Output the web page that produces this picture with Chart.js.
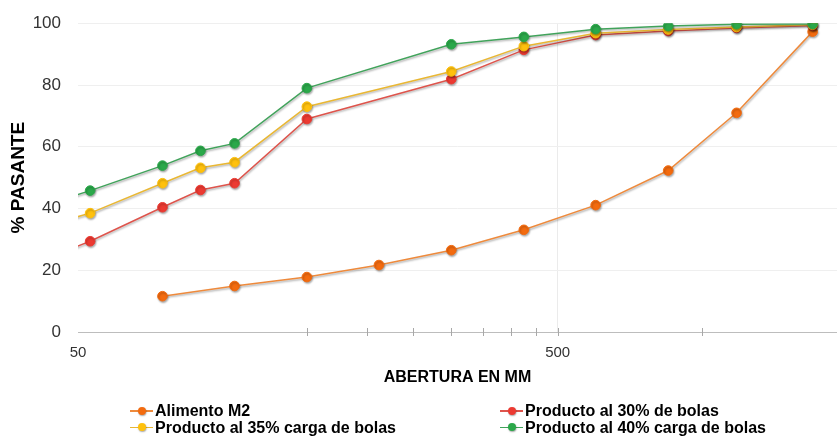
<!DOCTYPE html>
<html lang="es">
<head>
<meta charset="utf-8">
<script src="https://cdn.jsdelivr.net/npm/chart.js@4.4.1/dist/chart.umd.min.js"></script>
<style>
  html, body { margin: 0; padding: 0; background: #ffffff; }
  #wrap { position: relative; width: 837px; height: 436px; overflow: hidden; }
  #grafico { position: absolute; left: 0; top: 0; }
  #leyenda {
    position: absolute; left: 0; top: 402px; width: 837px; height: 34px;
    font-family: "Liberation Sans", Arial, sans-serif; font-weight: bold; font-size: 16px; color: #000;
  }
  .item { position: absolute; height: 17px; line-height: 17px; white-space: nowrap; }
  .marca { position: absolute; left: 0; top: 0; width: 23px; height: 17px; }
  .marca .linea { position: absolute; left: 0; top: 8px; width: 23px; height: 1.5px; }
  .marca .punto { position: absolute; left: 7.5px; top: 4.5px; width: 8px; height: 8px; border-radius: 50%;
                  box-shadow: 0.5px 1px 1.5px rgba(0,0,0,0.35); }
  .texto { position: absolute; left: 25px; top: 0; }
</style>
</head>
<body>
<div id="wrap">
  <canvas id="grafico" width="837" height="436"></canvas>
  <div id="leyenda"></div>
</div>
<script>
// Series names and colours
const series = ["Alimento M2", "Producto al 30% de bolas", "Producto al 35% carga de bolas", "Producto al 40% carga de bolas"];
const coloresPunto = ["#F36B0F", "#EC3A32", "#FFC10E", "#2BA84A"];
const coloresLinea = ["#EE8A3C", "#DE544C", "#E9B733", "#41A35B"];

// Sieve openings (x values)
const aberturasAlimento = [75, 106, 150, 212, 300, 425, 600, 850, 1180, 1700];
const aberturasProducto = [38, 53, 75, 90, 106, 150, 300, 425, 600, 850, 1180, 1700];

// Cumulative % passing for each series
const alimentoM2 = [11.6, 14.9, 17.8, 21.7, 26.5, 33.1, 41.1, 52.3, 71.0, 97.3];
const producto30 = [20.7, 29.4, 40.4, 46.0, 48.2, 69.0, 81.9, 91.4, 96.2, 97.5, 98.5, 99.3];
const producto35 = [32.1, 38.5, 48.2, 53.2, 55.0, 73.0, 84.4, 92.6, 96.8, 98.0, 98.8, 99.5];
const producto40 = [38.6, 45.8, 53.9, 58.7, 61.1, 79.0, 93.2, 95.6, 98.1, 99.1, 99.7, 99.8];

// Axis ticks
const ticksX = [50, 150, 200, 250, 300, 350, 400, 450, 500, 1000];
const etiquetasX = [50, 500];
const ejeX = { min: 50, max: 1911 };
const ejeY = { min: 0, max: 100, paso: 20 };

const FUENTE = '"Liberation Sans", Arial, sans-serif';

function puntos(xs, ys) {
  return ys.map((v, i) => ({ x: xs[i], y: v }));
}

const valores = [
  puntos(aberturasAlimento, alimentoM2),
  puntos(aberturasProducto, producto30),
  puntos(aberturasProducto, producto35),
  puntos(aberturasProducto, producto40)
];

// later series are drawn above earlier ones
const datasets = series.map((nombre, i) => ({
  label: nombre,
  data: valores[i],
  borderColor: coloresLinea[i],
  backgroundColor: coloresPunto[i],
  pointBackgroundColor: coloresPunto[i],
  pointBorderColor: coloresPunto[i],
  pointBorderWidth: 1,
  pointRadius: 4.8,
  borderWidth: 1.5,
  tension: 0,
  order: series.length - 1 - i
}));

// soft drop shadow under lines and markers
const sombra = {
  id: 'sombra',
  beforeDatasetDraw(chart) {
    const ctx = chart.ctx;
    ctx.save();
    ctx.shadowColor = 'rgba(0,0,0,0.33)';
    ctx.shadowBlur = 2;
    ctx.shadowOffsetX = 0.8;
    ctx.shadowOffsetY = 1.4;
  },
  afterDatasetDraw(chart) {
    chart.ctx.restore();
  }
};

// small tick marks crossing the category axis line
const marcasX = {
  id: 'marcasX',
  afterDraw(chart) {
    const esc = chart.scales.x;
    const ctx = chart.ctx;
    const y = chart.chartArea.bottom;
    ctx.save();
    ctx.strokeStyle = '#a8a8a8';
    ctx.lineWidth = 1;
    esc.ticks.forEach(t => {
      if (t.value <= ejeX.min) return;
      const x = Math.round(esc.getPixelForValue(t.value)) + 0.5;
      ctx.beginPath();
      ctx.moveTo(x, y - 4);
      ctx.lineTo(x, y + 4);
      ctx.stroke();
    });
    ctx.restore();
  }
};

const chart = new Chart(document.getElementById('grafico'), {
  type: 'line',
  data: { datasets },
  plugins: [sombra, marcasX],
  options: {
    responsive: false,
    animation: false,
    devicePixelRatio: 1,
    layout: { autoPadding: false, padding: { top: 23.3, right: 0, bottom: 0, left: 0 } },
    plugins: {
      legend: { display: false },
      tooltip: { enabled: false },
      title: { display: false }
    },
    scales: {
      x: {
        type: 'logarithmic',
        min: ejeX.min,
        max: ejeX.max,
        afterBuildTicks(scale) {
          scale.ticks = ticksX.map(v => ({ value: v }));
        },
        afterFit(scale) {
          scale.height = 104;
          scale.paddingLeft = 0;
          scale.paddingRight = 0;
        },
        ticks: {
          autoSkip: false,
          maxRotation: 0,
          padding: 12,
          color: '#333333',
          font: { family: FUENTE, size: 15 },
          callback: (v) => etiquetasX.includes(v) ? String(v) : ''
        },
        grid: {
          drawTicks: false,
          color: (c) => (c.tick && c.tick.value === 500) ? '#ebebeb' : 'rgba(0,0,0,0)'
        },
        border: { display: true, color: '#bdbdbd', width: 1 },
        title: {
          display: true,
          text: 'ABERTURA EN MM',
          color: '#000000',
          font: { family: FUENTE, size: 16, weight: 'bold' },
          padding: { top: 0, bottom: 48.7 }
        }
      },
      y: {
        min: ejeY.min,
        max: ejeY.max,
        afterFit(scale) {
          scale.width = 78;
          scale.paddingTop = 0;
          scale.paddingBottom = 0;
        },
        ticks: {
          stepSize: ejeY.paso,
          padding: 17,
          color: '#333333',
          font: { family: FUENTE, size: 17 }
        },
        grid: {
          drawTicks: false,
          color: '#efefef'
        },
        border: { display: false },
        title: {
          display: true,
          text: '% PASANTE',
          color: '#000000',
          font: { family: FUENTE, size: 19, weight: 'bold' },
          padding: { top: 7, bottom: 0 }
        }
      }
    }
  }
});

// two-column legend built from the chart's datasets
const posiciones = [
  { left: 130, top: 0 },
  { left: 500, top: 0 },
  { left: 130, top: 16.7 },
  { left: 500, top: 16.7 }
];
const leyenda = document.getElementById('leyenda');
chart.data.datasets.forEach((ds, i) => {
  const item = document.createElement('div');
  item.className = 'item';
  item.style.left = posiciones[i].left + 'px';
  item.style.top = posiciones[i].top + 'px';
  const marca = document.createElement('span');
  marca.className = 'marca';
  const linea = document.createElement('span');
  linea.className = 'linea';
  linea.style.background = ds.borderColor;
  const punto = document.createElement('span');
  punto.className = 'punto';
  punto.style.background = ds.pointBackgroundColor;
  marca.appendChild(linea);
  marca.appendChild(punto);
  const texto = document.createElement('span');
  texto.className = 'texto';
  texto.textContent = ds.label;
  item.appendChild(marca);
  item.appendChild(texto);
  leyenda.appendChild(item);
});
</script>
</body>
</html>
